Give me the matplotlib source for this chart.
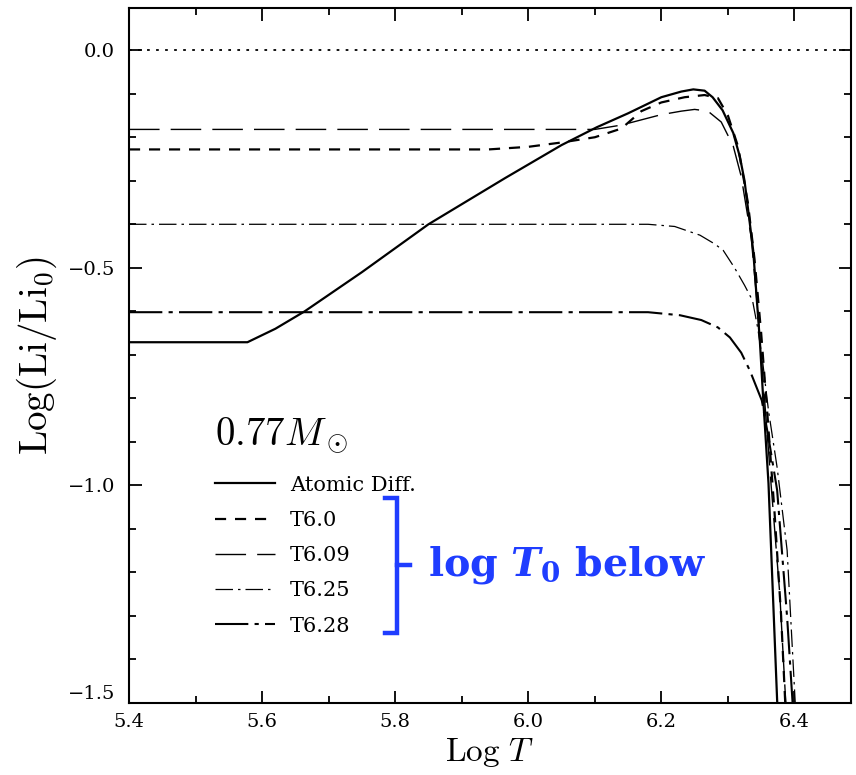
import numpy as np
import matplotlib
matplotlib.use("Agg")
import matplotlib.pyplot as plt
from matplotlib.lines import Line2D
from matplotlib.ticker import MultipleLocator, FuncFormatter

# Atomic diffusion (solid)
x_atomic = [5.40, 5.578, 5.62, 5.664, 5.75, 5.85, 5.965, 6.05, 6.103, 6.15, 6.20,
            6.23, 6.248, 6.265, 6.277, 6.292, 6.308, 6.318, 6.325, 6.338, 6.348,
            6.353, 6.361, 6.374, 6.378]
y_atomic = [-0.671, -0.671, -0.64, -0.60, -0.51, -0.40, -0.294, -0.218, -0.177, -0.145, -0.108,
            -0.095, -0.090, -0.093, -0.108, -0.138, -0.19, -0.245, -0.30, -0.46, -0.667,
            -0.80, -0.995, -1.494, -1.60]

# T6.0 (short dashes)
x_t60 = [5.40, 5.94, 6.00, 6.05, 6.10, 6.14, 6.17, 6.20, 6.235, 6.265, 6.285,
         6.30, 6.315, 6.33, 6.34, 6.35, 6.36, 6.37, 6.38, 6.386, 6.39]
y_t60 = [-0.228, -0.228, -0.222, -0.212, -0.20, -0.18, -0.14, -0.12, -0.108, -0.103, -0.11,
         -0.15, -0.22, -0.35, -0.48, -0.65, -0.85, -1.06, -1.30, -1.494, -1.60]

# T6.09 (long dashes)
x_t609 = [5.40, 6.10, 6.14, 6.17, 6.20, 6.23, 6.25, 6.27, 6.29, 6.308, 6.32,
          6.335, 6.345, 6.355, 6.365, 6.378, 6.387, 6.39]
y_t609 = [-0.182, -0.182, -0.172, -0.16, -0.148, -0.14, -0.136, -0.14, -0.165, -0.22, -0.29,
          -0.43, -0.60, -0.80, -1.00, -1.25, -1.50, -1.60]

# T6.25 (thin dash-dot)
x_t625 = [5.40, 6.18, 6.22, 6.258, 6.28, 6.293, 6.31, 6.325, 6.337, 6.345, 6.352,
          6.361, 6.374, 6.389, 6.401, 6.405]
y_t625 = [-0.40, -0.40, -0.405, -0.425, -0.445, -0.46, -0.50, -0.54, -0.575, -0.64, -0.713,
          -0.828, -0.959, -1.149, -1.494, -1.60]

# T6.28 (thick dash-dot)
x_t628 = [5.40, 6.18, 6.228, 6.26, 6.285, 6.303, 6.32, 6.333, 6.351, 6.361, 6.374,
          6.389, 6.397, 6.40]
y_t628 = [-0.602, -0.602, -0.609, -0.62, -0.637, -0.66, -0.695, -0.736, -0.805, -0.89, -1.011,
          -1.303, -1.494, -1.60]

W, H = 856, 775
fig = plt.figure(figsize=(W / 100, H / 100), dpi=100)
ax = fig.add_axes([129 / W, 1 - 703 / H, (851 - 129) / W, (703 - 8) / H])

ax.axhline(0.0, color="black", lw=1.3, ls=(0, (1.5, 3.5)))
ax.plot(x_atomic, y_atomic, color="black", lw=1.6, label="Atomic Diff.")
ax.plot(x_t60, y_t60, color="black", lw=1.6, ls=(0, (5, 4)), label="T6.0")
ax.plot(x_t609, y_t609, color="black", lw=1.0, ls=(0, (22, 8)), label="T6.09")
ax.plot(x_t625, y_t625, color="black", lw=0.9, ls=(0, (14, 4, 2, 4)), label="T6.25")
ax.plot(x_t628, y_t628, color="black", lw=1.5, ls=(0, (16, 3, 2, 3)), label="T6.28")

ax.set_xlim(5.4, 6.485)
ax.set_ylim(-1.5, 0.097)
ax.xaxis.set_major_locator(MultipleLocator(0.2))
ax.xaxis.set_minor_locator(MultipleLocator(0.1))
ax.yaxis.set_major_locator(MultipleLocator(0.5))
ax.yaxis.set_minor_locator(MultipleLocator(0.1))
fmt = FuncFormatter(lambda v, p: ("%.1f" % v).replace("-", "\u2212"))
ax.xaxis.set_major_formatter(fmt)
ax.yaxis.set_major_formatter(fmt)
ax.tick_params(which="both", direction="in", top=True, right=True, width=1.3,
               labelsize=14)
ax.tick_params(which="major", length=9)
ax.tick_params(which="minor", length=5)
ax.tick_params(axis="y", pad=10)
ax.tick_params(axis="x", pad=7)
fig.canvas.draw()
for lab in ax.get_xticklabels() + ax.get_yticklabels():
    lab.set_family("DejaVu Serif")
for lab in ax.get_yticklabels():
    if lab.get_text() == "\u22121.5":
        lab.set_verticalalignment("bottom")
for sp in ax.spines.values():
    sp.set_linewidth(1.5)

ax.set_xlabel(r"$\mathrm{Log}\ T$", fontsize=24, math_fontfamily="cm", labelpad=4)
ax.set_ylabel(r"$\mathrm{Log(Li/Li_0)}$", fontsize=28, math_fontfamily="cm", labelpad=6)

ax.text(0.119, 0.385, r"$0.77M_\odot$", transform=ax.transAxes, fontsize=28,
        math_fontfamily="cm", va="center", ha="left")

leg = ax.legend(loc="upper left", bbox_to_anchor=(0.119, 0.327), frameon=False,
                prop={"family": "DejaVu Serif", "size": 15}, handlelength=2.9,
                handletextpad=0.7, labelspacing=0.78, borderpad=0, borderaxespad=0)

# blue bracket and note
blue = "#1f3dff"
def fx(px):
    return px / W
def fy(py):
    return 1 - py / H
fig.add_artist(Line2D([fx(385), fx(397), fx(397), fx(385)],
                      [fy(498), fy(498), fy(633), fy(633)],
                      color=blue, lw=3.2, solid_joinstyle="miter"))
fig.add_artist(Line2D([fx(397), fx(410)], [fy(565), fy(565)], color=blue, lw=3.2))
fig.text(fx(428), fy(565), r"log $\mathbfit{T}_{\mathbf{0}}$ below", color=blue,
         fontsize=28.5, fontweight="bold", family="DejaVu Serif",
         math_fontfamily="dejavuserif", va="center", ha="left")

fig.savefig("out.png", dpi=100)
